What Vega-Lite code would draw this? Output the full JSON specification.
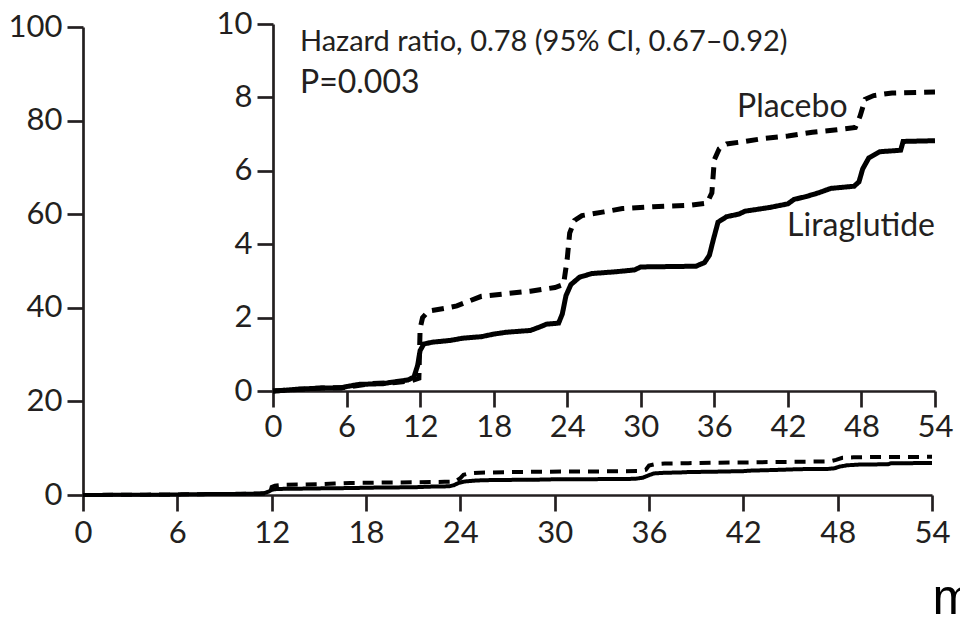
{
  "$schema": "https://vega.github.io/schema/vega-lite/v6.json",
  "width": 849,
  "height": 471,
  "autosize": {"type": "none"},
  "padding": {"left": 83, "top": 24, "right": 28, "bottom": 122},
  "background": "white",
  "config": {
    "view": {"stroke": null},
    "axis": {
      "grid": false,
      "domainColor": "#231f20",
      "domainWidth": 2.7,
      "tickColor": "#231f20",
      "tickWidth": 2.7,
      "tickSize": 16,
      "labelFont": "Lato",
      "labelFontSize": 31,
      "labelColor": "#231f20",
      "labelFlush": false,
      "labelOverlap": false,
      "labelPadding": 5
    }
  },
  "datasets": {
    "curves": [
      {"group": "Liraglutide", "t": 0, "v": 0},
      {"group": "Liraglutide", "t": 1, "v": 0.02},
      {"group": "Liraglutide", "t": 2, "v": 0.05},
      {"group": "Liraglutide", "t": 4, "v": 0.08},
      {"group": "Liraglutide", "t": 5.5, "v": 0.08},
      {"group": "Liraglutide", "t": 6, "v": 0.12},
      {"group": "Liraglutide", "t": 7, "v": 0.18},
      {"group": "Liraglutide", "t": 9, "v": 0.2},
      {"group": "Liraglutide", "t": 9.5, "v": 0.23},
      {"group": "Liraglutide", "t": 11, "v": 0.3},
      {"group": "Liraglutide", "t": 11.5, "v": 0.38},
      {"group": "Liraglutide", "t": 11.8, "v": 0.7},
      {"group": "Liraglutide", "t": 12, "v": 1.1},
      {"group": "Liraglutide", "t": 12.3, "v": 1.28},
      {"group": "Liraglutide", "t": 13, "v": 1.33},
      {"group": "Liraglutide", "t": 14.5, "v": 1.38},
      {"group": "Liraglutide", "t": 15.5, "v": 1.44},
      {"group": "Liraglutide", "t": 17, "v": 1.48},
      {"group": "Liraglutide", "t": 18, "v": 1.55},
      {"group": "Liraglutide", "t": 19, "v": 1.6},
      {"group": "Liraglutide", "t": 21, "v": 1.65},
      {"group": "Liraglutide", "t": 21.8, "v": 1.75},
      {"group": "Liraglutide", "t": 22.3, "v": 1.82},
      {"group": "Liraglutide", "t": 23.3, "v": 1.85},
      {"group": "Liraglutide", "t": 23.6, "v": 2.1},
      {"group": "Liraglutide", "t": 23.9, "v": 2.6},
      {"group": "Liraglutide", "t": 24.3, "v": 2.9},
      {"group": "Liraglutide", "t": 25, "v": 3.1},
      {"group": "Liraglutide", "t": 26, "v": 3.2},
      {"group": "Liraglutide", "t": 28, "v": 3.25},
      {"group": "Liraglutide", "t": 29.5, "v": 3.3},
      {"group": "Liraglutide", "t": 30, "v": 3.38},
      {"group": "Liraglutide", "t": 34.5, "v": 3.4},
      {"group": "Liraglutide", "t": 35.2, "v": 3.5},
      {"group": "Liraglutide", "t": 35.6, "v": 3.7},
      {"group": "Liraglutide", "t": 35.9, "v": 4.1},
      {"group": "Liraglutide", "t": 36.3, "v": 4.6},
      {"group": "Liraglutide", "t": 37, "v": 4.75},
      {"group": "Liraglutide", "t": 38, "v": 4.82},
      {"group": "Liraglutide", "t": 38.5, "v": 4.9},
      {"group": "Liraglutide", "t": 40.5, "v": 5.0},
      {"group": "Liraglutide", "t": 42, "v": 5.1},
      {"group": "Liraglutide", "t": 42.5, "v": 5.22},
      {"group": "Liraglutide", "t": 43.5, "v": 5.3},
      {"group": "Liraglutide", "t": 44.5, "v": 5.4},
      {"group": "Liraglutide", "t": 45.5, "v": 5.52},
      {"group": "Liraglutide", "t": 47.4, "v": 5.58},
      {"group": "Liraglutide", "t": 47.8, "v": 5.7},
      {"group": "Liraglutide", "t": 48.1, "v": 6.05},
      {"group": "Liraglutide", "t": 48.6, "v": 6.35},
      {"group": "Liraglutide", "t": 49.5, "v": 6.52},
      {"group": "Liraglutide", "t": 51.2, "v": 6.56},
      {"group": "Liraglutide", "t": 51.4, "v": 6.8},
      {"group": "Liraglutide", "t": 54, "v": 6.82},
      {"group": "Placebo", "t": 0, "v": 0},
      {"group": "Placebo", "t": 2, "v": 0.04},
      {"group": "Placebo", "t": 4, "v": 0.08},
      {"group": "Placebo", "t": 6, "v": 0.1},
      {"group": "Placebo", "t": 8, "v": 0.2},
      {"group": "Placebo", "t": 10, "v": 0.23},
      {"group": "Placebo", "t": 11.3, "v": 0.28},
      {"group": "Placebo", "t": 11.9, "v": 0.35},
      {"group": "Placebo", "t": 12, "v": 1.7},
      {"group": "Placebo", "t": 12.2, "v": 2.0},
      {"group": "Placebo", "t": 12.7, "v": 2.18},
      {"group": "Placebo", "t": 14, "v": 2.25},
      {"group": "Placebo", "t": 15, "v": 2.32},
      {"group": "Placebo", "t": 16, "v": 2.45},
      {"group": "Placebo", "t": 17, "v": 2.58},
      {"group": "Placebo", "t": 19, "v": 2.65},
      {"group": "Placebo", "t": 21, "v": 2.72},
      {"group": "Placebo", "t": 23, "v": 2.82},
      {"group": "Placebo", "t": 23.7, "v": 2.9},
      {"group": "Placebo", "t": 24, "v": 3.6},
      {"group": "Placebo", "t": 24.2, "v": 4.3},
      {"group": "Placebo", "t": 24.6, "v": 4.65},
      {"group": "Placebo", "t": 25.2, "v": 4.78},
      {"group": "Placebo", "t": 27, "v": 4.88},
      {"group": "Placebo", "t": 28.5, "v": 4.97},
      {"group": "Placebo", "t": 31, "v": 5.02},
      {"group": "Placebo", "t": 34, "v": 5.06},
      {"group": "Placebo", "t": 35.4, "v": 5.12},
      {"group": "Placebo", "t": 35.8, "v": 5.4},
      {"group": "Placebo", "t": 36, "v": 6.3},
      {"group": "Placebo", "t": 36.4, "v": 6.6},
      {"group": "Placebo", "t": 37, "v": 6.73},
      {"group": "Placebo", "t": 38.5, "v": 6.8},
      {"group": "Placebo", "t": 40, "v": 6.88},
      {"group": "Placebo", "t": 42, "v": 6.95},
      {"group": "Placebo", "t": 44, "v": 7.05},
      {"group": "Placebo", "t": 46, "v": 7.12},
      {"group": "Placebo", "t": 47.5, "v": 7.18},
      {"group": "Placebo", "t": 47.9, "v": 7.5},
      {"group": "Placebo", "t": 48.3, "v": 7.95},
      {"group": "Placebo", "t": 49, "v": 8.05},
      {"group": "Placebo", "t": 50.5, "v": 8.12},
      {"group": "Placebo", "t": 54, "v": 8.15}
    ],
    "statNotes": [
      {"label": "Hazard ratio, 0.78 (95% CI, 0.67–0.92)", "t": 2.2, "v": 9.26}
    ],
    "leftNotes": [
      {"label": "P=0.003", "t": 2.2, "v": 8.12},
      {"label": "Placebo", "t": 37.85, "v": 7.47}
    ],
    "rightNotes": [
      {"label": "Liraglutide", "t": 54, "v": 4.22}
    ]
  },
  "layer": [
    {
      "data": {"name": "curves"},
      "mark": {"type": "line", "color": "#000000", "strokeWidth": 4},
      "encoding": {
        "x": {
          "field": "t", "type": "quantitative",
          "scale": {"domain": [0, 54], "range": [0, 849]},
          "axis": {
            "orient": "bottom", "values": [0, 6, 12, 18, 24, 30, 36, 42, 48, 54],
            "labelPadding": 7,
            "title": "m", "titleFont": "Liberation Sans", "titleFontSize": 50,
            "titleFontWeight": "normal", "titleColor": "#000000",
            "titleAlign": "left", "titleBaseline": "alphabetic",
            "titleAnchor": null, "titleX": 849, "titleY": 118
          }
        },
        "y": {
          "field": "v", "type": "quantitative",
          "scale": {"domain": [0, 100], "range": [471, 3]},
          "axis": {"orient": "left", "values": [0, 20, 40, 60, 80, 100], "title": null}
        },
        "strokeDash": {
          "field": "group", "type": "nominal",
          "scale": {"domain": ["Liraglutide", "Placebo"], "range": [[1, 0], [11, 8]]},
          "legend": null
        }
      }
    },
    {
      "data": {"name": "curves"},
      "mark": {"type": "line", "color": "#000000", "strokeWidth": 5},
      "encoding": {
        "x": {
          "field": "t", "type": "quantitative",
          "scale": {"domain": [0, 54], "range": [190, 852]},
          "axis": {"orient": "bottom", "offset": -104, "values": [0, 6, 12, 18, 24, 30, 36, 42, 48, 54], "title": null}
        },
        "y": {
          "field": "v", "type": "quantitative",
          "scale": {"domain": [0, 10], "range": [367, 0]},
          "axis": {"orient": "left", "offset": -190, "values": [0, 2, 4, 6, 8, 10], "title": null}
        },
        "strokeDash": {
          "field": "group", "type": "nominal",
          "scale": {"domain": ["Liraglutide", "Placebo"], "range": [[1, 0], [12, 8]]},
          "legend": null
        }
      }
    },
    {
      "data": {"name": "statNotes"},
      "mark": {"type": "text", "font": "Lato", "fontSize": 29, "color": "#231f20", "align": "left", "baseline": "alphabetic"},
      "encoding": {
        "x": {"field": "t", "type": "quantitative", "scale": {"domain": [0, 54], "range": [190, 852]}, "axis": null},
        "y": {"field": "v", "type": "quantitative", "scale": {"domain": [0, 10], "range": [367, 0]}, "axis": null},
        "text": {"field": "label"}
      }
    },
    {
      "data": {"name": "leftNotes"},
      "mark": {"type": "text", "font": "Lato", "fontSize": 32, "color": "#231f20", "align": "left", "baseline": "alphabetic"},
      "encoding": {
        "x": {"field": "t", "type": "quantitative", "scale": {"domain": [0, 54], "range": [190, 852]}, "axis": null},
        "y": {"field": "v", "type": "quantitative", "scale": {"domain": [0, 10], "range": [367, 0]}, "axis": null},
        "text": {"field": "label"}
      }
    },
    {
      "data": {"name": "rightNotes"},
      "mark": {"type": "text", "font": "Lato", "fontSize": 32, "color": "#231f20", "align": "right", "baseline": "alphabetic"},
      "encoding": {
        "x": {"field": "t", "type": "quantitative", "scale": {"domain": [0, 54], "range": [190, 852]}, "axis": null},
        "y": {"field": "v", "type": "quantitative", "scale": {"domain": [0, 10], "range": [367, 0]}, "axis": null},
        "text": {"field": "label"}
      }
    }
  ],
  "resolve": {
    "scale": {"x": "independent", "y": "independent", "strokeDash": "independent"},
    "axis": {"x": "independent", "y": "independent"}
  }
}
